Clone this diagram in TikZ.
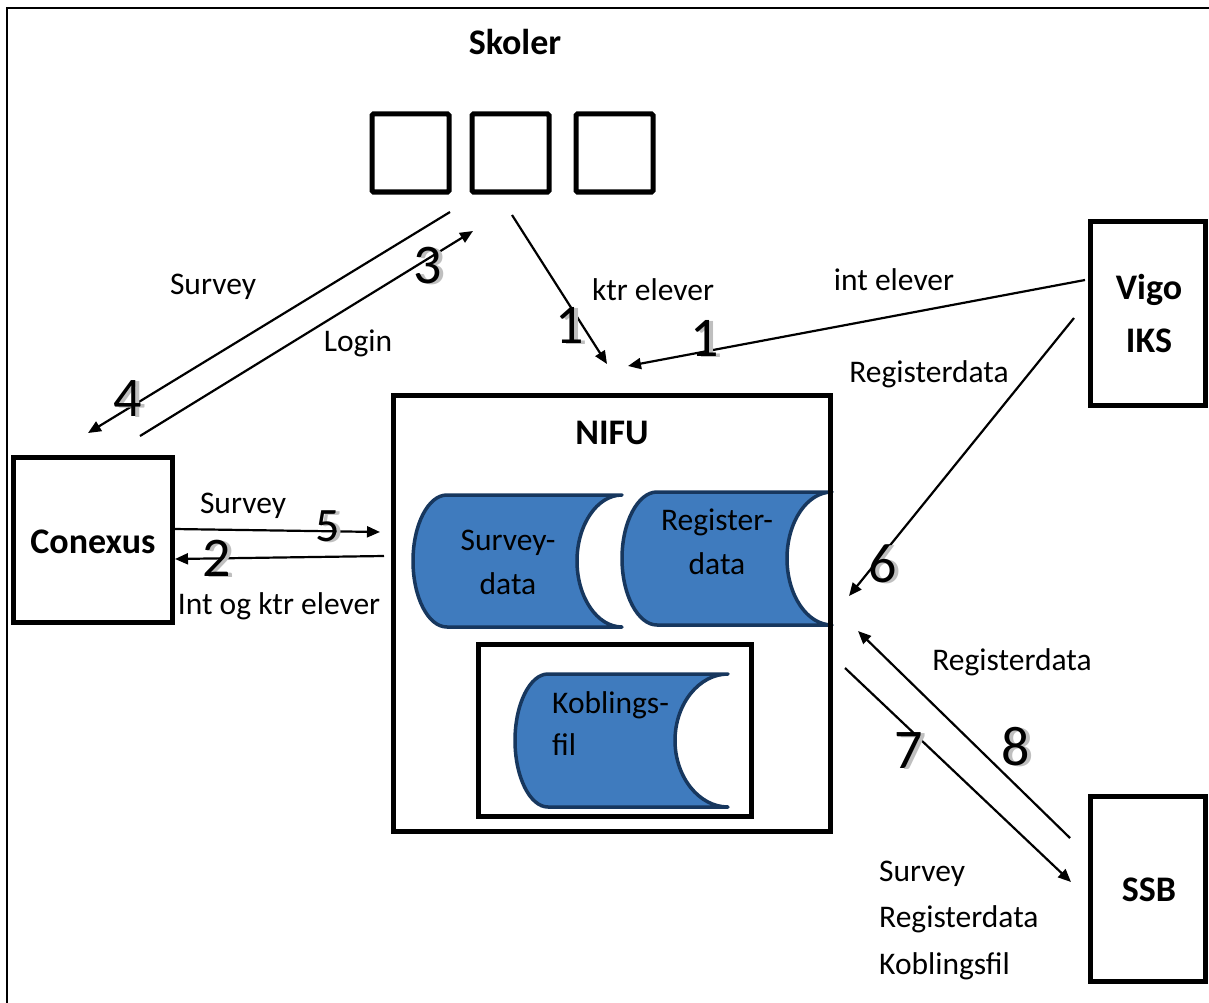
\documentclass[tikz,border=0pt]{standalone}
\usepackage{fontspec}
\setmainfont{Carlito}
\usetikzlibrary{arrows.meta}
\definecolor{cylfill}{HTML}{3F7BBE}
\definecolor{cylline}{HTML}{17375E}
\definecolor{shadowgrey}{HTML}{BFBFBF}
\tikzset{
  box/.style={draw=black, line width=5pt, fill=white},
  sqbox/.style={draw=black, line width=5pt, rounded corners=1.5pt},
  cyl/.style={draw=cylline, line width=3.5pt, fill=cylfill, line join=round},
  conn/.style={draw=black, line width=2.2pt, -{Triangle[length=13pt,width=11pt]}},
  lbl/.style={font=\fontsize{31.5}{36}\selectfont, inner sep=0pt, text height=26pt, text depth=5pt},
  blbl/.style={font=\fontsize{36}{40}\selectfont\bfseries, inner sep=0pt, text height=27pt, text depth=4pt},
  num/.style={font=\fontsize{56}{56}\selectfont, inner sep=0pt, text=black},
  numsh/.style={font=\fontsize{56}{56}\selectfont, inner sep=0pt, text=shadowgrey},
  snum/.style={font=\fontsize{48}{48}\selectfont, inner sep=0pt, text=black},
  snumsh/.style={font=\fontsize{48}{48}\selectfont, inner sep=0pt, text=shadowgrey},
}
\begin{document}
\begin{tikzpicture}[x=1pt,y=-1pt]
\useasboundingbox (0,0) rectangle (1209,1003);
\fill[white] (0,0) rectangle (1209,1003);
% outer frame (cropped)
\draw[line width=2pt] (7,1003) -- (7,8) -- (1209,8);

% Skoler
\node[blbl] (skoler) at (515,43) {Skoler};
\draw[sqbox] (372,114) rectangle (449,192);
\draw[sqbox] (472,114) rectangle (549,192);
\draw[sqbox] (576,114) rectangle (653,192);

% Vigo IKS
\draw[box] (1090,221) rectangle (1205,405);
\node[blbl] (vigo) at (1149,288) {Vigo};
\node[blbl] (iks) at (1149,341) {IKS};

% SSB
\draw[box] (1090,796) rectangle (1205,981);
\node[blbl] (ssb) at (1149,890) {SSB};

% Conexus
\draw[box] (13,457) rectangle (172,622);
\node[blbl] (conexus) at (93,542) {Conexus};

% NIFU cylinders
\path[cyl] (447,495) -- (622,495)
  .. controls (597,495) and (577,525) .. (577,561)
  .. controls (577,597) and (597,627) .. (622,627)
  -- (447,627)
  .. controls (428,627) and (413,597) .. (413,561)
  .. controls (413,525) and (428,495) .. (447,495) -- cycle;
\path[cyl] (657,492) -- (832,492)
  .. controls (807,492) and (787,522) .. (787,558.5)
  .. controls (787,595) and (807,625) .. (832,625)
  -- (657,625)
  .. controls (638,625) and (622,595) .. (622,558.5)
  .. controls (622,522) and (638,492) .. (657,492) -- cycle;

% inner box
\draw[box, fill=none] (478,644) rectangle (751,816);
\path[cyl] (548,674) -- (728,674)
  .. controls (699,674) and (675,704) .. (675,740.5)
  .. controls (675,777) and (699,807) .. (728,807)
  -- (548,807)
  .. controls (530,807) and (515,777) .. (515,740.5)
  .. controls (515,704) and (530,674) .. (548,674) -- cycle;

\draw[box, fill=none] (393,395) rectangle (830,831);
\node[blbl] (nifu) at (612,433) {NIFU};

\node[lbl] (tsurvey) at (508,540) {Survey-};
\node[lbl] (tsdata) at (508,584) {data};
\node[lbl] (tregister) at (717,520) {Register-};
\node[lbl] (trdata) at (717,564) {data};
\node[lbl, anchor=west] (tkob) at (552,703) {Koblings-};
\node[lbl, anchor=west] (tfil) at (552,745) {fil};

% connector end points
\coordinate (a4s) at (450,212); \coordinate (a4e) at (88,433);
\coordinate (a3s) at (140,436); \coordinate (a3e) at (473,231);
\coordinate (a1s) at (512,215); \coordinate (a1e) at (607,364);
\coordinate (b1s) at (1085,280); \coordinate (b1e) at (628,366);
\coordinate (a6s) at (1074,318); \coordinate (a6e) at (849,596);
\coordinate (a5s) at (174,529); \coordinate (a5e) at (380,532);
\coordinate (a2s) at (384,556); \coordinate (a2e) at (175,559);
\coordinate (a8s) at (1070,838); \coordinate (a8e) at (858,631);
\coordinate (a7s) at (845,668); \coordinate (a7e) at (1071,882);

\draw[conn] (a4s) -- (a4e);
\draw[conn] (a3s) -- (a3e);
\draw[conn] (a1s) -- (a1e);
\draw[conn] (b1s) -- (b1e);
\draw[conn] (a6s) -- (a6e);
\draw[conn] (a5s) -- (a5e);
\draw[conn] (a2s) -- (a2e);
\draw[conn] (a8s) -- (a8e);
\draw[conn] (a7s) -- (a7e);

% labels
\node[lbl] (lsurvey1) at (213,284) {Survey};
\node[lbl] (llogin) at (358,341) {Login};
\node[lbl] (lktr) at (653,290) {ktr elever};
\node[lbl] (lint) at (894,280) {int elever};
\node[lbl] (lreg1) at (929,372) {Registerdata};
\node[lbl] (lsurvey5) at (243,503) {Survey};
\node[lbl] (lintktr) at (279,604) {Int og ktr elever};
\node[lbl] (lreg8) at (1012,660) {Registerdata};
\node[lbl, anchor=west] (lsv7) at (879,871) {Survey};
\node[lbl, anchor=west] (lrg7) at (879,917) {Registerdata};
\node[lbl, anchor=west] (lkb7) at (879,964) {Koblingsfil};

% numbers with shadow
\node[numsh] (n4s) at (132,400) {4}; \node[num] (n4) at (128,399) {4};
\node[numsh] (n3s) at (432,267) {3}; \node[num] (n3) at (428,266) {3};
\node[numsh] (n1as) at (574,326) {1}; \node[num] (n1a) at (570,325) {1};
\node[numsh] (n1bs) at (709,339) {1}; \node[num] (n1b) at (705,338) {1};
\node[numsh] (n6s) at (887,565) {6}; \node[num] (n6) at (883,564) {6};
\node[snumsh] (n5s) at (332,527) {5}; \node[snum] (n5) at (328,526) {5};
\node[numsh] (n2s) at (221,559) {2}; \node[num] (n2) at (217,558) {2};
\node[numsh] (n8s) at (1020,748) {8}; \node[num] (n8) at (1016,747) {8};
\node[numsh] (n7s) at (913,752) {7}; \node[num] (n7) at (909,751) {7};
\end{tikzpicture}
\end{document}
